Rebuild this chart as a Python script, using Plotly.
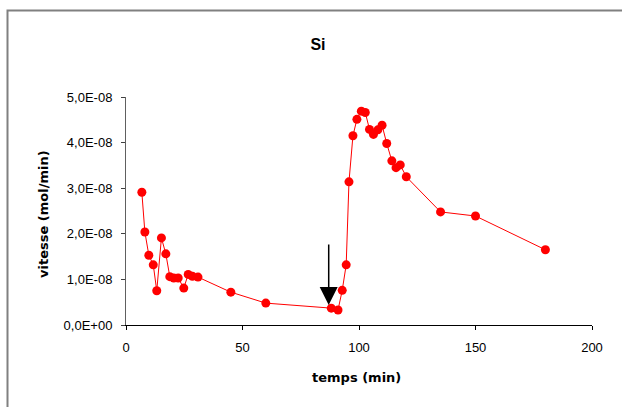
import plotly.graph_objects as go

temps = [6.8, 8.1, 9.8, 11.7, 13.2, 15.2, 17.1, 18.8, 20.5, 22.4, 24.8, 26.7, 28.5, 30.9,
         45, 60, 88.1, 91.0, 92.8, 94.5, 95.7, 97.4, 99.1, 101.0, 102.7, 104.5, 106.2,
         108.1, 109.9, 111.9, 114.1, 115.9, 117.7, 120.3, 135, 150, 180]
vitesse_e8 = [2.91, 2.04, 1.53, 1.32, 0.75, 1.91, 1.56, 1.06, 1.03, 1.03, 0.81, 1.11, 1.07, 1.05,
              0.72, 0.48, 0.37, 0.33, 0.76, 1.32, 3.14, 4.15, 4.51, 4.69, 4.66, 4.29, 4.18,
              4.28, 4.38, 3.98, 3.60, 3.45, 3.51, 3.25, 2.48, 2.39, 1.65]
vitesse = [v * 1e-8 for v in vitesse_e8]

y_tickvals = [0, 1e-8, 2e-8, 3e-8, 4e-8, 5e-8]
y_ticktext = ["0,0E+00", "1,0E-08", "2,0E-08", "3,0E-08", "4,0E-08", "5,0E-08"]
x_tickvals = [0, 50, 100, 150, 200]

arrow_x = 87
arrow_tip = 0.44e-8
arrow_tail = 1.80e-8

W, H = 622, 407
L, R, T, B = 126, 30, 97, 82
pw, ph = W - L - R, H - T - B


def px_x(p):
    return (p - L) / pw


def px_y(p):
    return (H - B - p) / ph


fig = go.Figure()
fig.add_trace(go.Scatter(
    x=temps, y=vitesse, mode="lines+markers",
    line=dict(color="#FF0000", width=1),
    marker=dict(color="#FF0000", size=9),
    showlegend=False, cliponaxis=False,
))

fig.add_annotation(
    x=arrow_x, y=arrow_tip, ax=arrow_x, ay=arrow_tail,
    xref="x", yref="y", axref="x", ayref="y",
    showarrow=True, arrowhead=2, arrowsize=2.4, arrowwidth=1.5,
    arrowcolor="black", text="", standoff=0,
)

# outer chart-area border (cut off at right and bottom)
fig.add_shape(type="rect", xref="paper", yref="paper",
              x0=px_x(7.5), x1=px_x(700), y0=px_y(10.5), y1=px_y(500),
              line=dict(color="#808080", width=2), layer="below")

tick_font = "Liberation Sans, Arial, sans-serif"
title_font = "DejaVu Sans, Liberation Sans, sans-serif"

fig.add_annotation(text="<b>temps (min)</b>", xref="paper", yref="paper",
                   x=px_x(356), y=px_y(377), xanchor="center", yanchor="middle",
                   showarrow=False, font=dict(family=title_font, size=13, color="black"))
fig.add_annotation(text="<b>vitesse (mol/min)</b>", xref="paper", yref="paper",
                   x=px_x(43), y=px_y(214), xanchor="center", yanchor="middle",
                   textangle=-90, showarrow=False,
                   font=dict(family=title_font, size=13, color="black"))

fig.update_layout(
    width=W, height=H,
    margin=dict(l=L, r=R, t=T, b=B, autoexpand=False),
    paper_bgcolor="white", plot_bgcolor="white",
    font=dict(family=tick_font, size=13, color="black"),
    title=dict(text="<b>Si</b>", x=318 / W, xanchor="center",
               y=1 - 44 / H, yanchor="middle",
               font=dict(family=tick_font, size=16)),
    xaxis=dict(range=[0, 200], tickvals=x_tickvals, ticks="outside", ticklen=4,
               tickcolor="black", showline=True, linecolor="black", linewidth=1,
               showgrid=False, zeroline=False, automargin=False,
               ticklabelstandoff=6, tickfont=dict(size=13)),
    yaxis=dict(range=[0, 5e-8], tickvals=y_tickvals, ticktext=y_ticktext,
               ticks="outside", ticklen=4, tickcolor="#404040",
               showline=True, linecolor="#606060", linewidth=1,
               showgrid=False, zeroline=False, automargin=False,
               ticklabelstandoff=6, tickfont=dict(size=13)),
)

fig.write_html("out.html", post_script="document.body.style.margin='0';",
               config={"displayModeBar": False})
